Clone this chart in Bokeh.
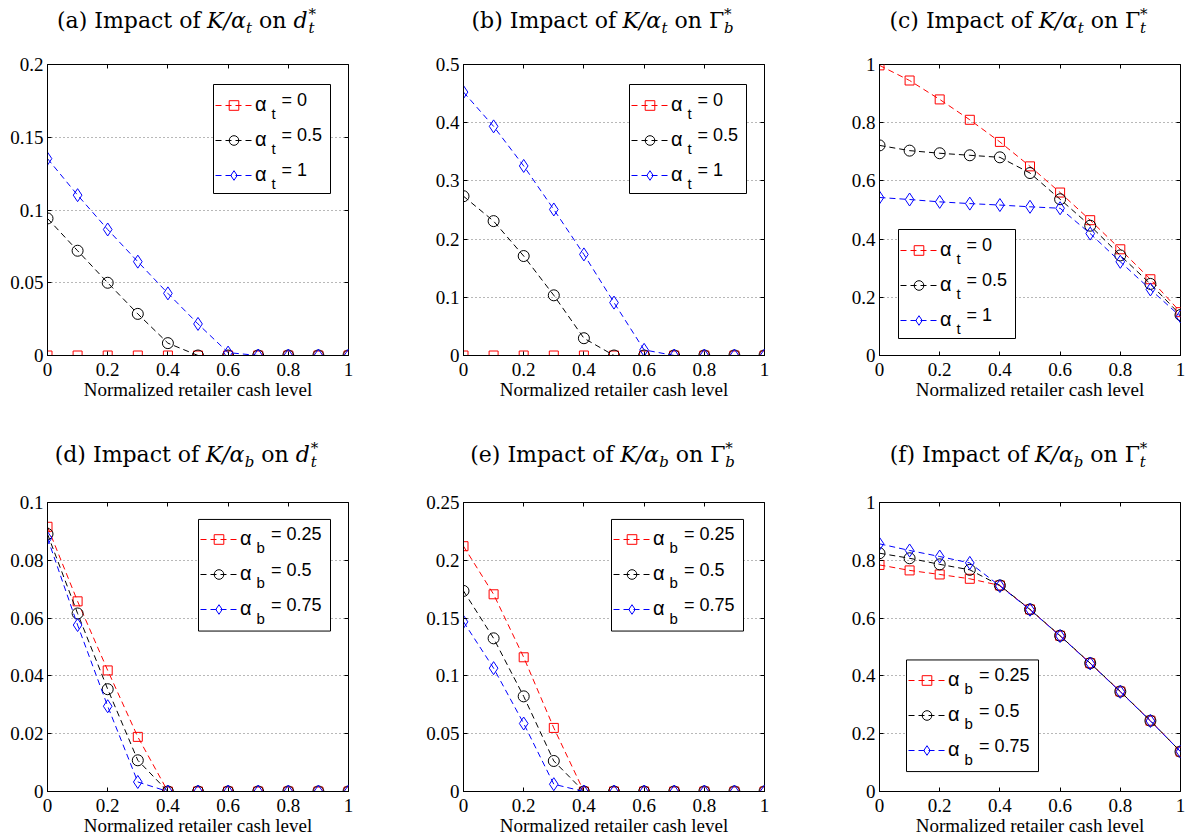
from bokeh.plotting import figure
from bokeh.layouts import column, row
from bokeh.models import (Range1d, FixedTicker, LinearAxis, Legend, LegendItem, Label,
                          BoxAnnotation)
from bokeh.embed import file_html
from bokeh.resources import INLINE

# ---------------- data ----------------
x_cash = [0.0, 0.1, 0.2, 0.3, 0.4, 0.5, 0.6, 0.7, 0.8, 0.9, 1.0]
x_ticks = [0, 0.2, 0.4, 0.6, 0.8, 1]
x_tick_labels = ["0", "0.2", "0.4", "0.6", "0.8", "1"]
x_title = "Normalized retailer cash level"

# (a) K/alpha_t on d_t*
a_at_0 = [0, 0, 0, 0, 0, 0, 0, 0, 0, 0, 0]
a_at_05 = [0.0942, 0.0720, 0.0500, 0.0286, 0.0085, 0, 0, 0, 0, 0, 0]
a_at_1 = [0.1353, 0.1102, 0.0866, 0.0645, 0.0427, 0.0217, 0.0020, 0, 0, 0, 0]
a_yticks = [0, 0.05, 0.1, 0.15, 0.2]
a_ylabels = ["0", "0.05", "0.1", "0.15", "0.2"]

# (b) K/alpha_t on Gamma_b*
b_at_0 = [0, 0, 0, 0, 0, 0, 0, 0, 0, 0, 0]
b_at_05 = [0.2737, 0.2309, 0.1709, 0.1034, 0.0297, 0, 0, 0, 0, 0, 0]
b_at_1 = [0.4526, 0.3937, 0.3257, 0.2509, 0.1737, 0.0909, 0.0097, 0, 0, 0, 0]
b_yticks = [0, 0.1, 0.2, 0.3, 0.4, 0.5]
b_ylabels = ["0", "0.1", "0.2", "0.3", "0.4", "0.5"]

# (c) K/alpha_t on Gamma_t*
c_at_0 = [0.997, 0.945, 0.880, 0.810, 0.734, 0.650, 0.560, 0.465, 0.365, 0.262, 0.149]
c_at_05 = [0.722, 0.704, 0.695, 0.688, 0.681, 0.627, 0.537, 0.446, 0.344, 0.246, 0.139]
c_at_1 = [0.543, 0.536, 0.528, 0.522, 0.517, 0.511, 0.506, 0.419, 0.322, 0.227, 0.134]
c_yticks = [0, 0.2, 0.4, 0.6, 0.8, 1]
c_ylabels = ["0", "0.2", "0.4", "0.6", "0.8", "1"]

# (d) K/alpha_b on d_t*
d_ab_025 = [0.0916, 0.0658, 0.0419, 0.0189, 0, 0, 0, 0, 0, 0, 0]
d_ab_05 = [0.0891, 0.0616, 0.0354, 0.0108, 0, 0, 0, 0, 0, 0, 0]
d_ab_075 = [0.0877, 0.0576, 0.0295, 0.0033, 0, 0, 0, 0, 0, 0, 0]
d_yticks = [0, 0.02, 0.04, 0.06, 0.08, 0.1]
d_ylabels = ["0", "0.02", "0.04", "0.06", "0.08", "0.1"]

# (e) K/alpha_b on Gamma_b*
e_ab_025 = [0.2122, 0.1706, 0.1161, 0.0550, 0, 0, 0, 0, 0, 0, 0]
e_ab_05 = [0.1735, 0.1325, 0.0823, 0.0264, 0, 0, 0, 0, 0, 0, 0]
e_ab_075 = [0.1468, 0.1067, 0.0588, 0.0063, 0, 0, 0, 0, 0, 0, 0]
e_yticks = [0, 0.05, 0.1, 0.15, 0.2, 0.25]
e_ylabels = ["0", "0.05", "0.1", "0.15", "0.2", "0.25"]

# (f) K/alpha_b on Gamma_t*
f_ab_025 = [0.784, 0.765, 0.751, 0.736, 0.713, 0.630, 0.539, 0.444, 0.346, 0.245, 0.138]
f_ab_05 = [0.8245, 0.807, 0.786, 0.767, 0.713, 0.630, 0.539, 0.444, 0.346, 0.245, 0.138]
f_ab_075 = [0.857, 0.834, 0.813, 0.791, 0.711, 0.629, 0.538, 0.443, 0.345, 0.244, 0.138]
f_yticks = [0, 0.2, 0.4, 0.6, 0.8, 1]
f_ylabels = ["0", "0.2", "0.4", "0.6", "0.8", "1"]

t_series_labels = ["0", "0.5", "1"]
b_series_labels = ["0.25", "0.5", "0.75"]

# ---------------- styling ----------------
COLORS = ["#ff0000", "#000000", "#0000ff"]
MARKERS = ["square", "circle", "diamond"]
MSIZES = [9, 11, 13]
SERIF = "DejaVu Serif"
TICKFONT = "Liberation Serif"
SANS = "Liberation Sans"
FW = 301
BL = 47
BASE_SHIFT = 0.37   # labels are placed with their cap-middle at y; baseline sits lower

# approximate advance widths (em) for title composition
W_REG = {'(': .390, ')': .390, ' ': .318, 'a': .596, 'b': .640, 'c': .560, 'd': .640,
         'e': .592, 'f': .370, 'I': .372, 'm': .948, 'p': .640, 't': .402, 'o': .602,
         'n': .644, 'Γ': .637, '*': .500}
W_IT = {'K': .73, '/': .337, 'α': .66, 't': .40, 'b': .64, 'd': .64}


def tw(text, italic, size):
    tab = W_IT if italic else W_REG
    return sum(tab.get(ch, W_REG.get(ch, .6)) for ch in text) * size


def add_label(p, x, y, text, font, size, style="normal", align="left"):
    p.add_layout(Label(x=x, y=y, x_units="screen", y_units="screen", text=text,
                       text_font=font, text_font_size="%dpx" % size, text_font_style=style,
                       text_color="black", text_baseline="middle", text_align=align))


def add_on_baseline(p, x, base, text, font, size, style="normal"):
    add_label(p, x, base + BASE_SHIFT * size, text, font, size, style)


def make_title(width, height, ybase, letter, a_sub, sym, sym_sub):
    s = figure(width=width, height=height, x_range=Range1d(0, 1), y_range=Range1d(0, 1),
               output_backend="svg", toolbar_location=None, min_border=0,
               x_axis_location=None, y_axis_location=None,
               background_fill_color="white", border_fill_color="white")
    s.outline_line_color = None
    s.grid.visible = False
    big, small = 22, 15
    sp = tw(" ", False, big)
    sym_it = sym == "d"
    # (text, italic, size, dy, advance)
    pieces = [("(%s) Impact of" % letter, False, big, 0,
               tw("(%s) Impact of" % letter, False, big) + sp),
              ("K/α", True, big, 0, tw("K/α", True, big) + 1),
              (a_sub, True, small, -5, tw(a_sub, True, small) + sp),
              ("on", False, big, 0, tw("on", False, big) + sp),
              (sym, sym_it, big, 0, tw(sym, sym_it, big) + 1)]
    tail = max(tw("*", False, small), tw(sym_sub, True, small))
    total = sum(pc[4] for pc in pieces) + tail
    x = BL + 139 - total / 2
    for t, it, sz, dy, adv in pieces:
        add_on_baseline(s, x, ybase + dy, t, SERIF, sz, "italic" if it else "normal")
        x += adv
    add_on_baseline(s, x, ybase + 9, "*", SERIF, small, "normal")
    add_on_baseline(s, x, ybase - 5, sym_sub, SERIF, small, "italic")
    return s


def make_panel(width, height, br, bt, fh, series, yticks, ylabels, sub, slabels, box):
    ymax = yticks[-1]
    bb = height - bt - fh
    p = figure(width=width, height=height, x_range=Range1d(0, 1),
               y_range=Range1d(0, ymax), output_backend="svg",
               toolbar_location=None, min_border_left=BL, min_border_right=br,
               min_border_top=bt, min_border_bottom=bb,
               background_fill_color="white", border_fill_color="white")
    p.outline_line_color = "black"
    p.outline_line_width = 1
    p.outline_line_alpha = 1
    p.xgrid.visible = False
    p.ygrid.ticker = FixedTicker(ticks=yticks)
    p.ygrid.grid_line_color = "#707070"
    p.ygrid.grid_line_dash = "1 3"
    p.ygrid.grid_line_width = 1

    xa = p.xaxis[0]
    ya = p.yaxis[0]
    xa.ticker = FixedTicker(ticks=x_ticks)
    xa.major_label_overrides = dict(zip(x_ticks, x_tick_labels))
    ya.ticker = FixedTicker(ticks=yticks)
    ya.major_label_overrides = dict(zip(yticks, ylabels))
    for ax in (xa, ya):
        ax.major_tick_in = 4
        ax.major_tick_out = 0
        ax.minor_tick_line_color = None
        ax.axis_line_color = "black"
        ax.major_tick_line_color = "black"
        ax.major_label_text_font = TICKFONT
        ax.major_label_text_font_size = "19px"
        ax.major_label_text_color = "black"
    xa.major_label_standoff = 7
    ya.major_label_standoff = 4
    xa.axis_label = x_title
    xa.axis_label_text_font = TICKFONT
    xa.axis_label_text_font_size = "19px"
    xa.axis_label_text_font_style = "normal"
    xa.axis_label_text_color = "black"
    xa.axis_label_standoff = 0

    top = LinearAxis(ticker=FixedTicker(ticks=x_ticks), major_label_text_font_size="1px",
                     major_label_text_color=None, major_tick_in=4, major_tick_out=0,
                     minor_tick_line_color=None, axis_line_color=None, major_label_standoff=0)
    right = LinearAxis(ticker=FixedTicker(ticks=yticks), major_label_text_font_size="1px",
                       major_label_text_color=None, major_tick_in=4, major_tick_out=0,
                       minor_tick_line_color=None, axis_line_color=None,
                       major_label_standoff=0)
    p.add_layout(top, "above")
    p.add_layout(right, "right")

    items = []
    for ys, c, m, ms in zip(series, COLORS, MARKERS, MSIZES):
        l = p.line(x_cash, ys, line_color=c, line_width=1, line_dash="6 4")
        s = p.scatter(x_cash, ys, marker=m, size=ms, line_color=c, fill_color=None,
                      line_width=1)
        items.append(LegendItem(label="α", renderers=[l, s]))

    # legend frame (white box with black border), in data units of the frame
    bx, btop, bw, bh, rsp = box
    p.add_layout(BoxAnnotation(left=bx / FW, right=(bx + bw) / FW,
                               bottom=(btop - bh) / fh * ymax, top=btop / fh * ymax,
                               fill_color="white", fill_alpha=1, line_color="black",
                               line_width=1, line_alpha=1))
    ltop = btop + 4.3
    legend = Legend(items=items, location=(bx + 2, ltop - 110), orientation="vertical",
                    glyph_width=37, glyph_height=24, label_height=30, label_width=20,
                    padding=5, spacing=5, label_standoff=3, margin=0,
                    border_line_color=None, background_fill_alpha=0,
                    label_text_font=SANS, label_text_font_size="20px",
                    label_text_color="black")
    p.add_layout(legend)
    lab_x = bx + 47
    eq_dx = 21 if sub == "t" else 25.5
    for i, lab in enumerate(slabels):
        yc = btop - 15.7 - rsp * i
        add_label(p, lab_x + 11, yc - 13, sub, SANS, 15)
        add_label(p, lab_x + eq_dx, yc, "= " + lab, SANS, 18)
    return p


T1, P1, T2, P2 = 50, 390, 48, 350
FH1, FH2 = 291, 290
WA, WC = 416, 355
RA, RC = WA - BL - FW, WC - BL - FW

ta = make_title(WA, T1, 21.7, "a", "t", "d", "t")
tb = make_title(WA, T1, 21.7, "b", "t", "Γ", "b")
tc = make_title(WC, T1, 21.7, "c", "t", "Γ", "t")
td = make_title(WA, T2, 26.3, "d", "b", "d", "t")
te = make_title(WA, T2, 26.3, "e", "b", "Γ", "b")
tf = make_title(WC, T2, 26.3, "f", "b", "Γ", "t")

pa = make_panel(WA, P1, RA, 14, FH1, [a_at_0, a_at_05, a_at_1], a_yticks, a_ylabels,
                "t", t_series_labels, (166, 271, 117, 109, 35))
pb = make_panel(WA, P1, RA, 14, FH1, [b_at_0, b_at_05, b_at_1], b_yticks, b_ylabels,
                "t", t_series_labels, (166, 271, 117, 109, 35))
pc = make_panel(WC, P1, RC, 14, FH1, [c_at_0, c_at_05, c_at_1], c_yticks, c_ylabels,
                "t", t_series_labels, (19, 126, 117, 109, 35))
pd = make_panel(WA, P2, RA, 14, FH2, [d_ab_025, d_ab_05, d_ab_075], d_yticks, d_ylabels,
                "b", b_series_labels, (151, 273, 132, 112, 35.5))
pe = make_panel(WA, P2, RA, 14, FH2, [e_ab_025, e_ab_05, e_ab_075], e_yticks, e_ylabels,
                "b", b_series_labels, (148, 273, 132, 112, 35.5))
pf = make_panel(WC, P2, RC, 14, FH2, [f_ab_025, f_ab_05, f_ab_075], f_yticks, f_ylabels,
                "b", b_series_labels, (27, 132, 132, 112, 35.5))

layout = column(row(ta, tb, tc), row(pa, pb, pc), row(td, te, tf), row(pd, pe, pf))
open("out.html", "w").write(file_html(layout, INLINE))
